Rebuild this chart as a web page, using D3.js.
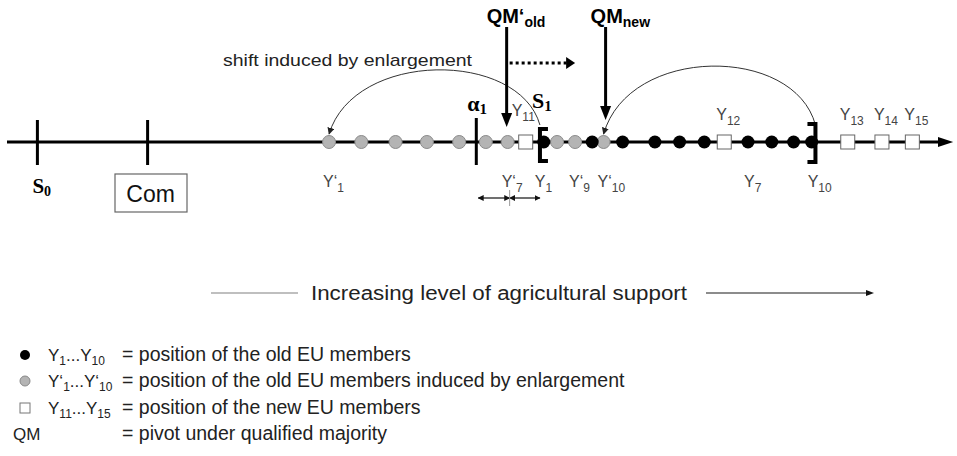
<!DOCTYPE html>
<html><head><meta charset="utf-8">
<script src="https://cdn.jsdelivr.net/npm/d3@7"></script>
<style>body{margin:0;background:#fff}svg{display:block}</style>
</head><body><svg id="c" width="957" height="456"></svg>
<script>
// ---- data (positions on the "level of agricultural support" scale, 0..100) ----
const oldMembers = [56.5, 61.6, 64.8, 68.2, 70.8, 73.4, 78.0, 80.5, 82.8, 84.7];      // Y1..Y10 (black)
const shiftedMembers = [33.9, 37.3, 40.9, 44.2, 47.6, 50.4, 52.7, 57.9, 59.8, 62.8];  // Y'1..Y'10 (grey)
const newMembers = [54.6, 75.5, 88.5, 92.1, 95.3];                                    // Y11..Y15 (white)
const refNames = ["S", "Com", "α"];
const refSubs = ["0", "", "1"];
const refValues = [3.2, 14.8, 49.4];
const winsetBounds = [56.1, 85.1];            // S1 "[" ... Y10 "]"
const shiftedLabelIdx = [0, 6, 8, 9];         // Y'1, Y'7, Y'9, Y'10
const oldLabelIdx = [0, 6, 9];                // Y1, Y7, Y10
const qmOldIdx = 6, qmNewIdx = 9;             // QM'old -> Y'7, QMnew -> Y'10
const shiftArrowEnd = 59.8;
const axisTitle = "Increasing level of agricultural support";
const legendMarks = ["black", "grey", "white", "none"];
const legendKeys = [
  [["Y",0],["1",1],["...Y",0],["10",1]],
  [["Y‘",0],["1",1],["...Y‘",0],["10",1]],
  [["Y",0],["11",1],["...Y",0],["15",1]],
  [["QM",0]]
];
const legendTexts = ["= position of the old EU members",
  "= position of the old EU members induced by enlargement",
  "= position of the new EU members",
  "= pivot under qualified majority"];

// ---- drawing ----
const svg = d3.select("#c");
const SANS = "'Liberation Sans', Arial, sans-serif";
const SERIF = "'Liberation Serif', 'Times New Roman', serif";
const x = d3.scaleLinear().domain([0, 100]).range([7, 957]);
const AY = 142;

const defs = svg.append("defs");
defs.append("marker").attr("id", "ah").attr("viewBox", "0 0 10 10").attr("refX", 9).attr("refY", 5)
  .attr("markerWidth", 7).attr("markerHeight", 7).attr("markerUnits", "userSpaceOnUse").attr("orient", "auto")
  .append("path").attr("d", "M0,0L10,5L0,10z").attr("fill", "#222");
defs.append("marker").attr("id", "ahs").attr("viewBox", "0 0 10 10").attr("refX", 9).attr("refY", 5)
  .attr("markerWidth", 6).attr("markerHeight", 6).attr("markerUnits", "userSpaceOnUse").attr("orient", "auto-start-reverse")
  .append("path").attr("d", "M0,0L10,5L0,10z").attr("fill", "#111");

function rich(g, x0, y0, parts, size, subSize, opts = {}) {
  const t = g.append("text").attr("x", x0).attr("y", y0)
    .attr("font-family", opts.family || SANS).attr("font-size", size)
    .attr("font-weight", opts.weight || "normal").attr("fill", opts.fill || "#222");
  let shift = 0;
  parts.forEach(([s, sub]) => {
    const target = sub ? (opts.subDy || 5) : 0;
    t.append("tspan").attr("dy", target - shift).attr("font-size", sub ? subSize : size).text(s);
    shift = target;
  });
  return t;
}

// curved "shift" arrows
function arc(a, b, h) {
  const x1 = x(a), x2 = x(b);
  return `M${x1},${AY - 17} C${x1 - (x1 - x2) * 0.1},${AY - h} ${x2 + (x1 - x2) * 0.12},${AY - h} ${x2},${AY - 8}`;
}
svg.append("path").attr("d", arc(winsetBounds[0], shiftedMembers[0], 92))
  .attr("fill", "none").attr("stroke", "#333").attr("stroke-width", 1).attr("marker-end", "url(#ah)");
svg.append("path").attr("d", arc(winsetBounds[1], shiftedMembers[qmNewIdx], 97))
  .attr("fill", "none").attr("stroke", "#333").attr("stroke-width", 1).attr("marker-end", "url(#ah)");
svg.append("text").attr("x", 223).attr("y", 66).attr("font-family", SANS).attr("font-size", 17)
  .attr("fill", "#222").attr("textLength", 249).attr("lengthAdjust", "spacingAndGlyphs")
  .text("shift induced by enlargement");

// main axis
svg.append("line").attr("x1", x(0)).attr("x2", x(98.2)).attr("y1", AY).attr("y2", AY)
  .attr("stroke", "#000").attr("stroke-width", 3);
svg.append("path").attr("d", `M${x(98.0)},${AY - 5}L${x(99.6)},${AY}L${x(98.0)},${AY + 5}z`).attr("fill", "#000");

// reference ticks
refValues.forEach((v, i) => {
  svg.append("line").attr("x1", x(v)).attr("x2", x(v)).attr("y1", i === 2 ? 118 : 120).attr("y2", 165)
    .attr("stroke", "#000").attr("stroke-width", 3);
});
rich(svg, x(refValues[0]) - 5, 193, [[refNames[0], 0], [refSubs[0], 1]], 21, 14, { family: SERIF, weight: "bold", fill: "#000", subDy: 3 });
svg.append("rect").attr("x", 115).attr("y", 174).attr("width", 72).attr("height", 38)
  .attr("fill", "#fff").attr("stroke", "#666").attr("stroke-width", 1.2);
svg.append("text").attr("x", x(refValues[1]) + 3).attr("y", 202).attr("text-anchor", "middle")
  .attr("font-family", SANS).attr("font-size", 23).attr("fill", "#111").text(refNames[1]);
rich(svg, x(refValues[2]) - 9, 111, [[refNames[2], 0], [refSubs[2], 1]], 22, 15, { family: SERIF, weight: "bold", fill: "#000", subDy: 3 });
rich(svg, x(winsetBounds[0]) - 8, 108, [["S", 0], ["1", 1]], 22, 15, { family: SERIF, weight: "bold", fill: "#000", subDy: 3 });

// grey (shifted) members
svg.append("g").selectAll("circle").data(shiftedMembers).join("circle")
  .attr("cx", d => x(d)).attr("cy", AY).attr("r", 6.5).attr("fill", "#b4b4b4").attr("stroke", "#8a8a8a").attr("stroke-width", 1);
// old members
svg.append("g").selectAll("circle").data(oldMembers).join("circle")
  .attr("cx", d => x(d)).attr("cy", AY).attr("r", 6.5).attr("fill", "#000");
// new members
svg.append("g").selectAll("rect").data(newMembers).join("rect")
  .attr("x", d => x(d) - 7).attr("y", AY - 7).attr("width", 14).attr("height", 14)
  .attr("fill", "#fff").attr("stroke", "#666").attr("stroke-width", 1);

// win-set brackets
const bx0 = x(winsetBounds[0]), bx1 = x(winsetBounds[1]);
svg.append("path").attr("d", `M${bx0 + 8},${129}H${bx0}V${161}H${bx0 + 8}`)
  .attr("fill", "none").attr("stroke", "#000").attr("stroke-width", 4);
svg.append("path").attr("d", `M${bx1 - 8},${124}H${bx1}V${162}H${bx1 - 8}`)
  .attr("fill", "none").attr("stroke", "#000").attr("stroke-width", 4);

// member labels
const LG = "#444";
shiftedLabelIdx.forEach(i => rich(svg, x(shiftedMembers[i]) - 6, 187, [["Y‘", 0], [String(i + 1), 1]], 16, 12, { fill: LG }));
oldLabelIdx.forEach(i => rich(svg, x(oldMembers[i]) - (i === 0 ? 9 : 4), 187, [["Y", 0], [String(i + 1), 1]], 16, 12, { fill: LG }));
newMembers.forEach((v, i) => rich(svg, x(v) - (i === 0 ? 14 : 8), i === 0 ? 116 : 120, [["Y", 0], [String(i + 11), 1]], 16, 12, { fill: LG }));

// QM pivots
const qOld = x(shiftedMembers[qmOldIdx]) - 1, qNew = x(shiftedMembers[qmNewIdx]) + 2;
[[qOld, 127], [qNew, 120]].forEach(([qx, tip]) => {
  svg.append("line").attr("x1", qx).attr("x2", qx).attr("y1", 27).attr("y2", tip - 12)
    .attr("stroke", "#000").attr("stroke-width", 3);
  svg.append("path").attr("d", `M${qx - 5.5},${tip - 14}L${qx},${tip}L${qx + 5.5},${tip - 14}z`).attr("fill", "#000");
});
rich(svg, qOld - 20, 23, [["QM‘", 0], ["old", 1]], 20, 14, { weight: "bold", fill: "#000", subDy: 4 });
rich(svg, qNew - 15, 23, [["QM", 0], ["new", 1]], 20, 14, { weight: "bold", fill: "#000", subDy: 4 });
// dotted shift of the pivot
svg.append("line").attr("x1", qOld + 3).attr("x2", x(shiftArrowEnd) - 8).attr("y1", 63).attr("y2", 63)
  .attr("stroke", "#000").attr("stroke-width", 3).attr("stroke-dasharray", "3,3");
svg.append("path").attr("d", `M${x(shiftArrowEnd) - 9},57L${x(shiftArrowEnd)},63L${x(shiftArrowEnd) - 9},69z`).attr("fill", "#000");

// distance arrows alpha1 <-> Y'7 <-> S1
const dY = 198;
const dA = x(refValues[2]) + 2, dM = x(shiftedMembers[qmOldIdx]) + 2, dB = x(winsetBounds[0]);
[[dA, dM], [dM, dB]].forEach(([a, b]) => {
  svg.append("line").attr("x1", a).attr("x2", b).attr("y1", dY).attr("y2", dY)
    .attr("stroke", "#111").attr("stroke-width", 1.2)
    .attr("marker-start", "url(#ahs)").attr("marker-end", "url(#ahs)");
});
svg.append("line").attr("x1", dM).attr("x2", dM).attr("y1", 190).attr("y2", 206).attr("stroke", "#999").attr("stroke-width", 1);

// axis title
svg.append("line").attr("x1", 211).attr("x2", 298).attr("y1", 293).attr("y2", 293).attr("stroke", "#aaa").attr("stroke-width", 1.5);
svg.append("text").attr("x", 311).attr("y", 300).attr("font-family", SANS).attr("font-size", 20)
  .attr("fill", "#222").attr("textLength", 376).attr("lengthAdjust", "spacingAndGlyphs").text(axisTitle);
svg.append("line").attr("x1", 706).attr("x2", 868).attr("y1", 293).attr("y2", 293).attr("stroke", "#666").attr("stroke-width", 1.5);
svg.append("path").attr("d", "M866,290L874,293L866,296z").attr("fill", "#111");

// legend
const rowY = [361, 387, 414, 440];
legendMarks.forEach((m, i) => {
  const y = rowY[i];
  if (m === "black") svg.append("circle").attr("cx", 25).attr("cy", y - 6).attr("r", 5).attr("fill", "#000");
  if (m === "grey") svg.append("circle").attr("cx", 25).attr("cy", y - 6).attr("r", 5).attr("fill", "#b4b4b4").attr("stroke", "#888");
  if (m === "white") svg.append("rect").attr("x", 20).attr("y", y - 11).attr("width", 10).attr("height", 10).attr("fill", "#fff").attr("stroke", "#777");
  rich(svg, m === "none" ? 13 : 48, y, legendKeys[i], 17, 12, { fill: "#222", subDy: 4 });
  svg.append("text").attr("x", 122).attr("y", y).attr("font-family", SANS).attr("font-size", 19.5)
    .attr("fill", "#222").text(legendTexts[i]);
});
</script></body></html>
